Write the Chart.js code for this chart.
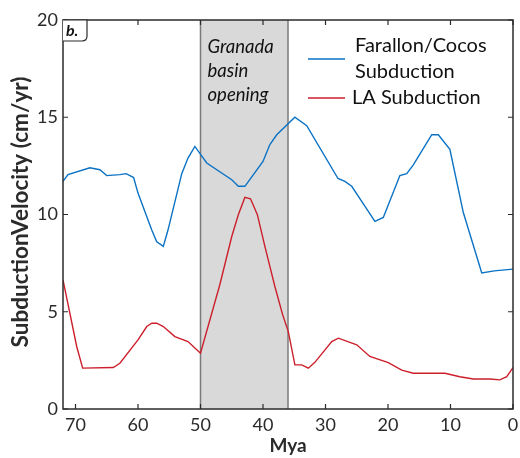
<!DOCTYPE html>
<html>
<head>
<meta charset="utf-8">
<script src="https://cdn.jsdelivr.net/npm/chart.js@4"></script>
<style>
  html, body { margin: 0; padding: 0; background: #fff; }
  #wrap { width: 520px; height: 458px; }
</style>
</head>
<body>
<div id="wrap"><canvas id="vel"></canvas></div>
<script>
// subduction velocity vs age
const farallonAge = [72, 71.2, 67.7, 66.1, 65, 62.9, 61.9, 60.7, 60, 57.8, 57, 55.95, 55.2, 53, 52, 50.9, 49,
  45, 43.95, 42.9, 40, 38.9, 37.8, 34.9, 33, 28, 26.9, 25.8, 23.15, 22.1, 20.75, 18.1, 17, 15.95, 13, 11.95,
  10.1, 7.95, 5.0, 3, 0];
const farallonVel = [11.7, 12.05, 12.4, 12.3, 12.0, 12.05, 12.1, 11.9, 11.1, 9.2, 8.6, 8.36, 9.2, 12.1, 12.9, 13.5, 12.65,
  11.79, 11.45, 11.45, 12.73, 13.6, 14.1, 15.0, 14.57, 11.85, 11.7, 11.45, 10.16, 9.65, 9.85, 12.0, 12.1, 12.55, 14.1, 14.1,
  13.35, 10.1, 6.99, 7.1, 7.19];

const laAge = [72, 69.8, 68.85, 63.95, 62.9, 60, 58.6, 57.8, 57, 55.95, 54.1, 52, 50, 46.9, 45, 43.95, 42.9, 42,
  40.9, 39.7, 38.1, 36.85, 35.95, 34.9, 33.8, 32.75, 31.7, 29, 27.95, 25, 22.9, 19.95, 17.8, 15.95, 10.9, 8.5,
  6.35, 3.7, 2.1, 1, 0];
const laVel = [6.64, 3.2, 2.1, 2.13, 2.35, 3.55, 4.24, 4.41, 4.41, 4.24, 3.72, 3.47, 2.87, 6.4, 8.87, 9.99, 10.88, 10.81,
  9.99, 8.36, 6.3, 4.84, 3.98, 2.27, 2.27, 2.1, 2.4, 3.47, 3.64, 3.3, 2.7, 2.38, 2.0, 1.84, 1.84, 1.66,
  1.54, 1.54, 1.5, 1.66, 2.13];

const xTicks = [70, 60, 50, 40, 30, 20, 10, 0];
const yTicks = [0, 5, 10, 15, 20];
const basinSpan = [50, 36];
const basinLines = ['Granada', 'basin', 'opening'];
const seriesNames = [['Farallon/Cocos', 'Subduction'], ['LA Subduction']];

const BLUE = '#0b72c4', RED = '#cc1f2b', INK = '#2b2b2b';
const FONT = 'Lato, "Open Sans", sans-serif';

const pts = (xs, ys) => xs.map((x, i) => ({ x, y: ys[i] }));

const figure = {
  id: 'figure',
  beforeDatasetsDraw(chart) {
    const { ctx, chartArea: a, scales: { x } } = chart;
    const x1 = x.getPixelForValue(basinSpan[0]), x2 = x.getPixelForValue(basinSpan[1]);
    ctx.save();
    ctx.fillStyle = '#d9d9d9';
    ctx.fillRect(x1, a.top, x2 - x1, a.bottom - a.top);
    ctx.strokeStyle = '#7a7a7a';
    ctx.lineWidth = 1.5;
    [x1, x2].forEach(px => {
      ctx.beginPath(); ctx.moveTo(px, a.top); ctx.lineTo(px, a.bottom); ctx.stroke();
    });
    ctx.fillStyle = '#111';
    ctx.font = `italic 18.5px ${FONT}`;
    ctx.textBaseline = 'alphabetic';
    basinLines.forEach((t, i) => ctx.fillText(t, x1 + 7, 53 + i * 24));
    ctx.restore();
  },
  afterDraw(chart) {
    const { ctx, chartArea: a, scales: { x, y } } = chart;
    ctx.save();
    // frame + inward ticks on all sides
    ctx.strokeStyle = INK;
    ctx.lineWidth = 1.5;
    ctx.strokeRect(a.left, a.top, a.right - a.left, a.bottom - a.top);
    ctx.lineWidth = 1.2;
    ctx.beginPath();
    xTicks.forEach(v => {
      const px = x.getPixelForValue(v);
      ctx.moveTo(px, a.bottom); ctx.lineTo(px, a.bottom - 5);
      ctx.moveTo(px, a.top); ctx.lineTo(px, a.top + 5);
    });
    yTicks.forEach(v => {
      const py = y.getPixelForValue(v);
      ctx.moveTo(a.left, py); ctx.lineTo(a.left + 5, py);
      ctx.moveTo(a.right, py); ctx.lineTo(a.right - 5, py);
    });
    ctx.stroke();

    // panel tag
    ctx.beginPath();
    ctx.moveTo(a.left, a.top);
    ctx.lineTo(a.left + 24, a.top);
    ctx.lineTo(a.left + 24, a.top + 16);
    ctx.quadraticCurveTo(a.left + 24, a.top + 21, a.left + 19, a.top + 21);
    ctx.lineTo(a.left, a.top + 21);
    ctx.fillStyle = '#fff';
    ctx.fill();
    ctx.lineWidth = 1.2;
    ctx.stroke();
    ctx.fillStyle = '#111';
    ctx.font = `italic bold 16px ${FONT}`;
    ctx.fillText('b.', a.left + 3, a.top + 16);

    // legend
    ctx.font = `20px ${FONT}`;
    ctx.lineWidth = 1.5;
    const rows = [[BLUE, 59, seriesNames[0]], [RED, 98, seriesNames[1]]];
    rows.forEach(([c, ly, names]) => {
      ctx.strokeStyle = c;
      ctx.beginPath(); ctx.moveTo(308, ly); ctx.lineTo(345, ly); ctx.stroke();
      ctx.fillStyle = '#111';
      ctx.textBaseline = 'middle';
      if (names.length === 2) {
        ctx.fillText(names[0], 355, ly - 13);
        ctx.fillText(names[1], 355, ly + 13);
      } else {
        ctx.fillText(names[0], 352, ly);
      }
    });

    // axis titles
    ctx.fillStyle = INK;
    ctx.font = `bold 19px ${FONT}`;
    ctx.textAlign = 'center';
    ctx.textBaseline = 'alphabetic';
    ctx.fillText('Mya', (a.left + a.right) / 2, 452);
    ctx.translate(28, 212);
    ctx.rotate(-Math.PI / 2);
    ctx.font = `bold 22.5px ${FONT}`;
    ctx.fillText('SubductionVelocity (cm/yr)', 0, 0);
    ctx.restore();
  }
};

new Chart(document.getElementById('vel'), {
  type: 'line',
  data: {
    datasets: [
      { label: 'Farallon/Cocos Subduction', data: pts(farallonAge, farallonVel), borderColor: BLUE, borderWidth: 1.4,
        pointRadius: 0, tension: 0, fill: false },
      { label: 'LA Subduction', data: pts(laAge, laVel), borderColor: RED, borderWidth: 1.4,
        pointRadius: 0, tension: 0, fill: false }
    ]
  },
  options: {
    responsive: true,
    maintainAspectRatio: false,
    animation: false,
    layout: { padding: { top: 20, right: 7, left: 0, bottom: 0 } },
    plugins: { legend: { display: false }, tooltip: { enabled: false } },
    scales: {
      x: {
        type: 'linear', reverse: true, min: 0, max: 72,
        afterBuildTicks: s => { s.ticks = xTicks.map(v => ({ value: v })); },
        afterFit: s => { s.height = 49; s.paddingLeft = 0; s.paddingRight = 0; },
        grid: { display: false, drawTicks: false }, border: { display: false },
        ticks: { color: INK, padding: 5, font: { family: FONT, size: 18 } }
      },
      y: {
        type: 'linear', min: 0, max: 20,
        afterBuildTicks: s => { s.ticks = yTicks.map(v => ({ value: v })); },
        afterFit: s => { s.width = 63; s.paddingTop = 0; s.paddingBottom = 0; },
        grid: { display: false, drawTicks: false }, border: { display: false },
        ticks: { color: INK, padding: 5, font: { family: FONT, size: 18 } }
      }
    }
  },
  plugins: [figure]
});
</script>
</body>
</html>
